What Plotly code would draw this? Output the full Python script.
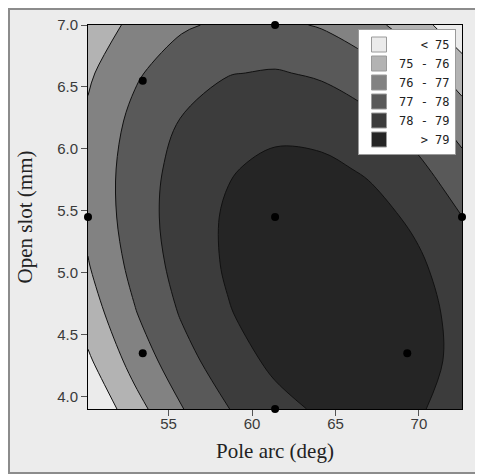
import plotly.graph_objects as go

# ---- data ----
pole_arc = [50.17, 52.97, 55.77, 58.58, 61.38, 64.18, 66.98, 69.78, 72.58]
open_slot = [3.9, 4.2875, 4.675, 5.0625, 5.45, 5.8375, 6.225, 6.6125, 7.0]
# response estimated on the grid (rows = open_slot, cols = pole_arc)
response = [
    [73.99, 75.62, 76.95, 77.98, 78.71, 79.14, 79.27, 79.11, 78.64],
    [74.84, 76.38, 77.62, 78.56, 79.20, 79.54, 79.58, 79.33, 78.77],
    [75.49, 76.94, 78.09, 78.94, 79.49, 79.74, 79.70, 79.35, 78.71],
    [75.95, 77.31, 78.37, 79.13, 79.59, 79.76, 79.62, 79.19, 78.45],
    [76.22, 77.49, 78.46, 79.13, 79.50, 79.57, 79.35, 78.83, 78.01],
    [76.29, 77.47, 78.35, 78.93, 79.22, 79.20, 78.89, 78.27, 77.36],
    [76.17, 77.26, 78.05, 78.54, 78.74, 78.63, 78.23, 77.53, 76.53],
    [75.85, 76.86, 77.56, 77.96, 78.07, 77.87, 77.38, 76.59, 75.50],
    [75.35, 76.26, 76.87, 77.19, 77.20, 76.92, 76.34, 75.45, 74.27],
]
design_pole_arc = [61.38, 53.45, 50.17, 61.38, 72.58, 53.45, 69.30, 61.38]
design_open_slot = [7.0, 6.55, 5.45, 5.45, 5.45, 4.35, 4.35, 3.9]

levels_start, levels_end, levels_size = 75, 79, 1
band_labels = ["\u00a0\u00a0\u00a0< 75", "75 - 76", "76 - 77", "77 - 78", "78 - 79", "\u00a0\u00a0\u00a0> 79"]
band_colors = ["#ebebeb", "#b3b3b3", "#828282", "#595959", "#3c3c3c", "#252525"]

x_ticks = [55, 60, 65, 70]
y_ticks = [4.0, 4.5, 5.0, 5.5, 6.0, 6.5, 7.0]

fig = go.Figure()
fig.add_trace(go.Contour(
    x=pole_arc, y=open_slot, z=response,
    autocontour=False,
    contours=dict(start=levels_start, end=levels_end, size=levels_size, coloring="fill"),
    colorscale=[[i / (len(band_colors) - 1), c] for i, c in enumerate(band_colors)],
    line=dict(color="#111111", width=1, smoothing=1.0),
    showscale=False, showlegend=False, hoverinfo="skip",
))
fig.add_trace(go.Scatter(
    x=design_pole_arc, y=design_open_slot, mode="markers",
    marker=dict(color="black", size=8), showlegend=False, cliponaxis=False,
))
for lab, col in zip(band_labels, band_colors):
    fig.add_trace(go.Scatter(
        x=[None], y=[None], mode="markers", name=lab,
        marker=dict(symbol="square", size=15, color=col, line=dict(color="#9a9a9a", width=1)),
    ))

W, H = 483, 466
L, T = 80, 17
R, B = W - 454, H - 401
pw, ph = W - L - R, H - T - B

def px(xp):
    return (xp - L) / pw

def py(yp):
    return (H - B - yp) / ph

# figure frame
fig.add_shape(type="rect", xref="paper", yref="paper",
              x0=px(1), x1=px(W + 4), y0=py(H - 1), y1=py(1),
              fillcolor="rgba(0,0,0,0)", line=dict(color="#8c8c8c", width=2), layer="above")

axis_common = dict(
    showgrid=False, zeroline=False, showline=True, linecolor="black", linewidth=1,
    mirror=True, ticks="outside", ticklen=6, tickcolor="#555555",
    tickfont=dict(family="Liberation Sans", size=15, color="#3a3a3a"),
)
fig.update_xaxes(range=[50.17, 72.58], tickvals=x_ticks, ticktext=[str(v) for v in x_ticks],
                 ticklabelstandoff=-5,
                 title=dict(text="Pole arc (deg)", font=dict(family="Liberation Serif", size=21, color="#222222"), standoff=12),
                 **axis_common)
fig.update_yaxes(range=[3.9, 7.0], tickvals=y_ticks, ticktext=[f"{v:.1f}" for v in y_ticks],
                 title=dict(text="Open slot (mm)", font=dict(family="Liberation Serif", size=21, color="#222222"), standoff=18),
                 **axis_common)

fig.update_layout(
    width=W, height=H, margin=dict(l=L, r=R, t=T, b=B, autoexpand=False),
    paper_bgcolor="#ececec", plot_bgcolor="#ececec",
    legend=dict(x=px(350), y=py(21), xanchor="left", yanchor="top",
                bgcolor="white", bordercolor="#9a9a9a", borderwidth=1,
                font=dict(family="DejaVu Sans Mono", size=12, color="#222222"),
                tracegroupgap=0, itemwidth=30),
)

fig.write_html("out.html")
